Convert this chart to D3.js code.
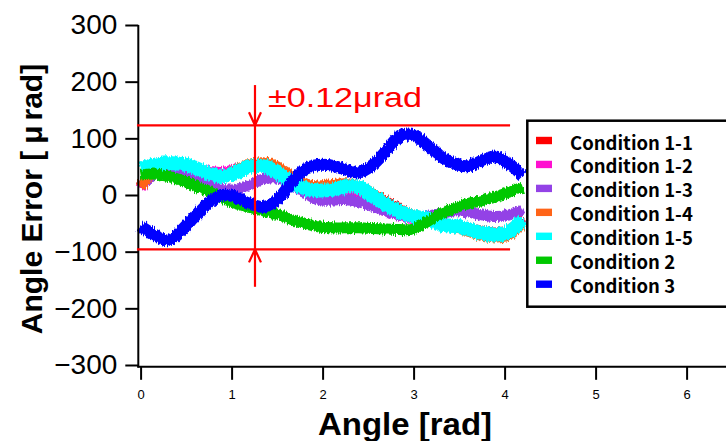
<!DOCTYPE html>
<html><head><meta charset="utf-8">
<script src="https://cdn.jsdelivr.net/npm/d3@7"></script>
<style>html,body{margin:0;padding:0;background:#fff;} svg{display:block;}</style>
</head><body>
<svg id="c" width="726" height="441"></svg>
<script>
const angle = [0,0.15,0.3,0.45,0.6,0.75,0.9,1.05,1.2,1.35,1.5,1.65,1.8,1.95,2.1,2.25,2.4,2.55,2.7,2.85,3.0,3.15,3.3,3.45,3.6,3.75,3.9,4.05,4.2];
const cond11 = [15,45,54,53,47,40,37,43,50,52,42,28,16,12,14,18,14,2,-12,-26,-36,-42,-50,-54,-58,-64,-67,-62,-42];
const cond12 = [12,44,53,52,47,42,40,45,50,50,38,22,10,5,5,2,-8,-18,-28,-36,-42,-44,-50,-54,-60,-66,-68,-64,-44];
const cond13 = [15,38,45,44,35,20,10,10,18,28,30,22,5,-8,-9,-8,-12,-20,-28,-35,-40,-38,-33,-28,-30,-35,-38,-35,-25];
const cond14 = [14,46,55,54,47,38,35,44,54,57,50,34,20,16,18,20,16,2,-14,-28,-36,-40,-50,-57,-64,-71,-74,-70,-50];
const cond15 = [47,53,56,55,48,38,33,40,50,51,40,25,12,8,9,15,14,-2,-17,-30,-38,-42,-52,-55,-60,-67,-70,-65,-44];
const cond2  = [35,37,33,26,16,7,-6,-15,-22,-28,-34,-43,-50,-56,-58,-58,-58,-59,-60,-61,-60,-47,-33,-23,-15,-10,-3,5,14];
const cond3  = [-55,-70,-80,-62,-37,-13,0,-4,-15,-21,-9,20,45,53,52,45,40,53,78,104,105,88,68,55,51,61,68,55,34];

const seriesNames = ["Condition 1-1","Condition 1-2","Condition 1-3","Condition 1-4","Condition 1-5","Condition 2","Condition 3"];
const seriesColors = ["#ff0000","#ff10d0","#9342e6","#ff6418","#00ffff","#00c800","#0000ff"];
const seriesWidths = [11,11,11,11,14,11,12];
const seriesValues = [cond11,cond12,cond13,cond14,cond15,cond2,cond3];

const xTicks = [0,1,2,3,4,5,6];
const yTicks = [-300,-200,-100,0,100,200,300];

const refUpper = 123, refLower = -96, refStart = -0.04, refEnd = 4.06;
const arrowAngle = 1.257, arrowTop = 194, arrowBottom = -162;
const refLabel = "±0.12μrad";

const svg = d3.select("#c");
const x = d3.scaleLinear().domain([0,6]).range([140.6,686.6]);
const y = d3.scaleLinear().domain([-300,300]).range([365,25]);

// noise texture filter (visual style only)
const defs = svg.append("defs");
const f = defs.append("filter").attr("id","rough").attr("filterUnits","userSpaceOnUse")
  .attr("x",100).attr("y",60).attr("width",500).attr("height",260);
f.append("feTurbulence").attr("type","fractalNoise").attr("baseFrequency","0.9 0.08").attr("numOctaves",2).attr("seed",4).attr("result","n");
f.append("feDisplacementMap").attr("in","SourceGraphic").attr("in2","n").attr("scale",6)
  .attr("xChannelSelector","R").attr("yChannelSelector","G");

// data
const line = d3.line().x((d,i)=>x(angle[i])).y(d=>y(d)).curve(d3.curveCatmullRom.alpha(0.5));
const g = svg.append("g").attr("filter","url(#rough)");
seriesValues.forEach((vals,k)=>{
  g.append("path").attr("d",line(vals)).attr("fill","none")
   .attr("stroke",seriesColors[k]).attr("stroke-width",seriesWidths[k])
   .attr("stroke-linejoin","round").attr("stroke-linecap","butt");
});

// axes
const yAxis = svg.append("g").attr("transform","translate(138.3,0)")
  .call(d3.axisLeft(y).tickValues(yTicks).tickSize(13).tickPadding(8).tickSizeOuter(0));
yAxis.select(".domain").attr("stroke","#000").attr("stroke-width",2).attr("d","M0,25V367.5");
yAxis.selectAll(".tick line").attr("stroke","#000").attr("stroke-width",2);
yAxis.selectAll(".tick text").attr("font-family","'Liberation Sans',Arial,sans-serif").attr("font-size",28).attr("fill","#000");

const xAxis = svg.append("g").attr("transform","translate(0,366.8)")
  .call(d3.axisBottom(x).tickValues(xTicks).tickFormat(d3.format("d")).tickSize(13).tickPadding(10).tickSizeOuter(0));
xAxis.select(".domain").attr("stroke","#000").attr("stroke-width",2).attr("d","M137.3,0H726");
xAxis.selectAll(".tick line").attr("stroke","#000").attr("stroke-width",2);
xAxis.selectAll(".tick text").attr("font-family","'Liberation Sans',Arial,sans-serif").attr("font-size",13).attr("fill","#000");

// axis titles
svg.append("text").attr("x",405).attr("y",435).attr("text-anchor","middle")
  .attr("font-family","'Liberation Sans',Arial,sans-serif").attr("font-weight","bold").attr("font-size",32)
  .attr("textLength",174).attr("lengthAdjust","spacingAndGlyphs").text("Angle [rad]");
const yt = svg.append("text").attr("transform","translate(42,199) rotate(-90)").attr("text-anchor","middle")
  .attr("font-family","'Liberation Sans',Arial,sans-serif").attr("font-weight","bold").attr("font-size",30);
yt.append("tspan").text("Angle Error [");
yt.append("tspan").attr("dx",7).text("μ");
yt.append("tspan").attr("dx",5).text("rad]");

// reference lines & arrows
const red = "#ff0000";
const ann = svg.append("g").attr("stroke",red).attr("stroke-width",2.2).attr("fill","none");
[refUpper,refLower].forEach(v=>{
  ann.append("line").attr("x1",x(refStart)).attr("x2",x(refEnd)).attr("y1",y(v)).attr("y2",y(v));
});
const ax = x(arrowAngle);
ann.append("line").attr("x1",ax).attr("x2",ax).attr("y1",y(arrowTop)).attr("y2",y(arrowBottom));
ann.append("path").attr("d",`M${ax-6},${y(refUpper)-13}L${ax},${y(refUpper)}L${ax+6},${y(refUpper)-13}`);
ann.append("path").attr("d",`M${ax-6},${y(refLower)+13}L${ax},${y(refLower)}L${ax+6},${y(refLower)+13}`);
svg.append("text").attr("x",268).attr("y",106.5).attr("fill",red)
  .attr("font-family","'Liberation Sans',Arial,sans-serif").attr("font-size",28)
  .attr("textLength",154).attr("lengthAdjust","spacingAndGlyphs").text(refLabel);

// legend
const lg = svg.append("g");
lg.append("rect").attr("x",527.3).attr("y",120.7).attr("width",230).attr("height",186)
  .attr("fill","#fff").attr("stroke","#000").attr("stroke-width",2.5);
seriesNames.forEach((name,k)=>{
  const cy = 140.5 + 23.95*k;
  lg.append("rect").attr("x",536).attr("y",cy-3.7).attr("width",16).attr("height",7.4).attr("fill",seriesColors[k]);
  lg.append("text").attr("x",570).attr("y",cy+9)
    .attr("font-family","'Noto Sans CJK JP','Noto Sans',sans-serif").attr("font-weight","bold").attr("font-size",18.5)
    .attr("fill","#000").text(name);
});
</script>
</body></html>
